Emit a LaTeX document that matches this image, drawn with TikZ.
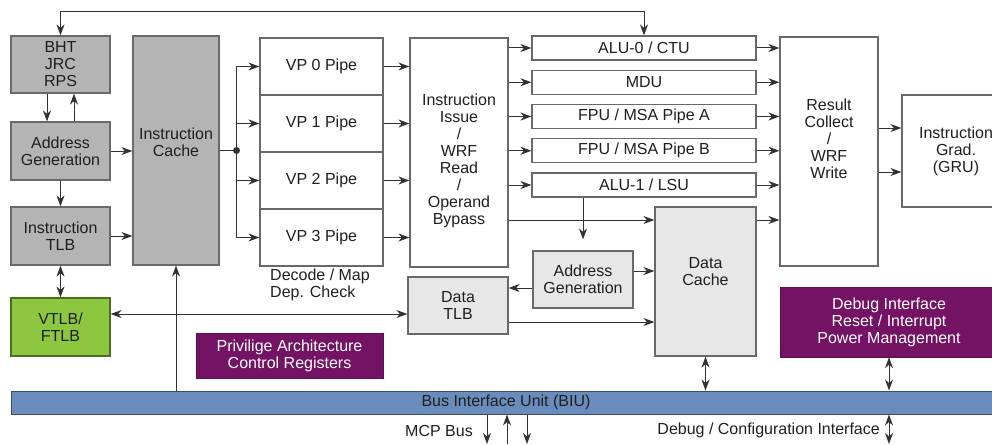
\documentclass[tikz,border=0pt]{standalone}
\usepackage{fontspec}
\setmainfont{Liberation Sans}
\usetikzlibrary{arrows.meta}
\usetikzlibrary{calc}

\definecolor{boxline}{RGB}{105,105,105}
\definecolor{darkgrey}{RGB}{180,180,180}
\definecolor{lightgrey}{RGB}{231,231,231}
\definecolor{vtlbgreen}{RGB}{141,198,63}
\definecolor{ctrlpurple}{RGB}{116,19,99}
\definecolor{busblue}{RGB}{105,140,189}
\definecolor{wirecol}{RGB}{50,50,50}

\begin{document}
\begin{tikzpicture}[x=1pt, y=-1pt,
  every node/.style={font=\fontsize{16}{17}\selectfont, text=black!88, align=center, inner sep=0pt},
  sz/.style 2 args={minimum width=#1, minimum height=#2},
  wbox/.style={draw=boxline, line width=1.2pt, fill=white},
  gbox/.style={wbox, fill=darkgrey},
  lbox/.style={wbox, fill=lightgrey},
  pbox/.style={fill=ctrlpurple, draw=ctrlpurple!80!black, text=white},
  wire/.style={draw=wirecol, line width=1pt, -{Stealth[length=11pt,width=8pt,inset=3.5pt]}},
  dwire/.style={wire, {Stealth[length=11pt,width=8pt,inset=3.5pt]}-{Stealth[length=11pt,width=8pt,inset=3.5pt]}}]
\useasboundingbox (0,0) rectangle (992,444);

% fetch side
\node[gbox, sz={99}{57}] (bht) at (60.5,64.5) {BHT\\JRC\\RPS};
\node[gbox, sz={99}{58}] (iag) at (60.5,151) {Address\\Generation};
\node[gbox, sz={99}{58}] (itlb) at (60.5,236) {Instruction\\TLB};
\node[gbox, sz={86}{229}] (icache) at (176,150.5) {};
\node (icachetxt) at (176,142) {Instruction\\Cache};
\node[wbox, fill=vtlbgreen, draw=vtlbgreen!55!black, sz={99}{58}] (vtlb) at (60.5,327) {VTLB/\\FTLB};

% decode pipes
\foreach \i in {0,...,3} {
 \node[wbox, sz={123}{57}] (vp\i) at (321.5,66.5+57*\i) {VP \i\ Pipe};
}
\node[anchor=west, align=left] (decode) at (270,285) {Decode / Map\\Dep. Check};

\node[wbox, sz={98}{229}] (issue) at (459,152.5) {};
\node (issuetxt) at (459,161) {Instruction\\Issue\\/\\WRF\\Read\\/\\Operand\\Bypass};

% execution units
\foreach \name/\txt [count=\k from 0] in {alu0/{ALU-0 / CTU}, mdu/MDU, fpua/{FPU / MSA Pipe A}, fpub/{FPU / MSA Pipe B}, alu1/{ALU-1 / LSU}} {
 \node[wbox, sz={224}{24}] (\name) at (644,48+34.25*\k) {\txt};
}

\node[wbox, sz={98}{229}] (result) at (829,151.5) {};
\node (resulttxt) at (829,138.5) {Result\\Collect\\/\\WRF\\Write};
\node[wbox, sz={108}{112}] (grad) at (956,151) {Instruction\\Grad.\\(GRU)};

% load / store side
\node[lbox, sz={100}{57}] (dag) at (583,279.5) {Address\\Generation};
\node[lbox, sz={100}{57}] (dtlb) at (458,305.5) {Data\\TLB};
\node[lbox, sz={101}{149}] (dcache) at (705.5,281.5) {};
\node (dcachetxt) at (705.5,272) {Data\\Cache};

\node[pbox, sz={187}{45}] (priv) at (289.5,355.5) {Privilige Architecture\\Control Registers};
\node[pbox, sz={218}{70}] (dbg) at (889,322) {Debug Interface\\Reset / Interrupt\\Power Management};

\node[draw=busblue!55!black, fill=busblue, line width=1pt, sz={990}{23}] (biu) at (506,402.5) {Bus Interface Unit (BIU)};
\node (mcp) at (439,431) {MCP Bus};
\node[anchor=east] (dbgcfg) at (880,430) {Debug / Configuration Interface};

% connectors
\draw[dwire] (bht.north) -- ++(0,-24) -| (alu0.north);
\draw[wire] ([xshift=-13.5]bht.south) -- ([xshift=-13.5]iag.north);
\draw[wire] ([xshift=13.5]iag.north) -- ([xshift=13.5]bht.south);
\draw[wire] (iag) -- (itlb);
\draw[wire] (iag.east) -- (iag.east -| icache.west);
\draw[wire] (itlb.east) -- (itlb.east -| icache.west);
\draw[dwire] (itlb) -- (vtlb);
\draw[dwire] ([yshift=13]vtlb.east) -- ([yshift=13]vtlb.east -| dtlb.west);
\draw[wire] (biu.north -| icache) -- (icache.south);

\coordinate (split) at (236.5,150.5);
\draw[wirecol, line width=1pt] (icache.east) -- (split);
\fill[wirecol] (split) circle (3.5);
\foreach \i in {0,...,3} {
 \draw[wire] (split) |- (vp\i.west);
 \draw[wire] (vp\i.east) -- (vp\i.east -| issue.west);
}
\foreach \name in {alu0,mdu,fpua,fpub,alu1} {
 \draw[wire] (\name.west -| issue.east) -- (\name.west);
 \draw[wire] (\name.east) -- (\name.east -| result.west);
}

\draw[wire] ([yshift=-67.5]issue.east) -- ([yshift=-67.5]issue.east -| dcache.west);
\draw[wire] ([yshift=-67.5]issue.east -| dcache.east) -- ([yshift=-67.5]issue.east -| result.west);
\draw[wire] (alu1.south -| dag) -- ([yshift=11]dag.north);
\draw[wire] ([yshift=8.5]dag.east) -- ([yshift=8.5]dag.east -| dcache.west);
\draw[wire] ([yshift=-8.5]dag.west) -- ([yshift=-8.5]dag.west -| dtlb.east);
\draw[wire] ([yshift=-16.5]dtlb.east) -- ([yshift=-16.5]dtlb.east -| dcache.west);
\draw[wire] ([yshift=23.5]result.east) -- ([yshift=23.5]result.east -| grad.west);
\draw[wire] ([yshift=-20.5]result.east) -- ([yshift=-20.5]result.east -| grad.west);

\draw[dwire] (dcache.south) -- (dcache.south |- biu.north);
\draw[dwire] (dbg.south) -- (dbg.south |- biu.north);

% bus ports
\coordinate (mcpa) at (487,444);
\coordinate (mcpb) at (507,444);
\coordinate (mcpc) at (527,444);
\coordinate (dbgport) at (889,444);
\draw[wire] (biu.south -| mcpa) -- (mcpa);
\draw[wire] (mcpb) -- (biu.south -| mcpb);
\draw[wire] (biu.south -| mcpc) -- (mcpc);
\draw[dwire] (biu.south -| dbgport) -- (dbgport);
\end{tikzpicture}
\end{document}
